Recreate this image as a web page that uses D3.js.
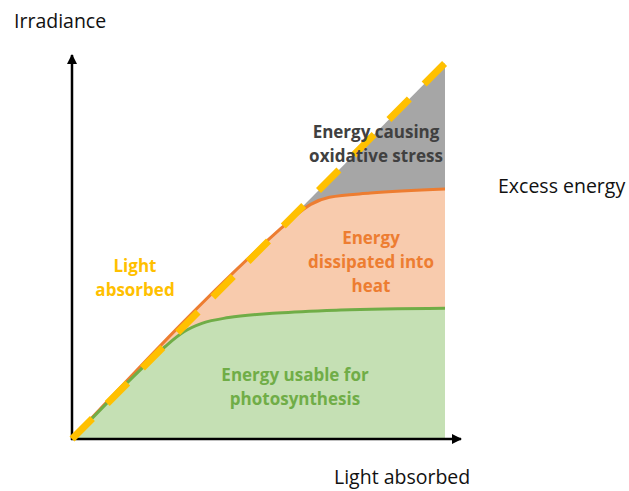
<!DOCTYPE html>
<html>
<head>
<meta charset="utf-8">
<style>
  body { margin: 0; background: #fff; }
  text { font-family: "Open Sans", "Noto Sans", sans-serif; }
  .lbl { font-size: 19.5px; fill: #111; }
  .area-lbl { font-size: 17px; font-weight: bold; text-anchor: middle; }
</style>
</head>
<body>
<svg width="629" height="491"></svg>
<script src="https://d3js.org/d3.v7.min.js"></script>
<script>
// light absorbed (diagonal) and the two saturation curves, in arbitrary units 0..100
var absorbed = [[0, 0], [100, 100]];
var usable = [[0, 0], [20, 20], [25, 24.6], [30, 28.5], [35, 30.8], [42, 32.3], [55, 33.5], [72, 34.3], [100, 34.8]];
var heat = [[0, 0], [56, 56], [60, 59.5], [64, 62.4], [69, 64.3], [80, 65.4], [100, 66.5]];

var svg = d3.select("svg");

var x = d3.scaleLinear().domain([0, 100]).range([72, 445]);
var y = d3.scaleLinear().domain([0, 100]).range([439, 63]);

var line = d3.line()
  .x(function(d) { return x(d[0]); })
  .y(function(d) { return y(d[1]); })
  .curve(d3.curveMonotoneX);

var area = d3.area()
  .x(function(d) { return x(d[0]); })
  .y0(y(0))
  .y1(function(d) { return y(d[1]); })
  .curve(d3.curveMonotoneX);

// stacked fills: gray (stress) under diagonal, orange under heat curve, green under usable curve
svg.append("path").attr("d", area(absorbed)).attr("fill", "#a6a6a6");
svg.append("path").attr("d", area(heat)).attr("fill", "#f8cbad");
svg.append("path").attr("d", area(usable)).attr("fill", "#c5e0b4");

svg.append("path").attr("d", line(heat)).attr("fill", "none")
  .attr("stroke", "#ed7d31").attr("stroke-width", 3);
svg.append("path").attr("d", line(usable)).attr("fill", "none")
  .attr("stroke", "#70ad47").attr("stroke-width", 3);

// axes with arrow heads
svg.append("defs").append("marker")
  .attr("id", "arrow")
  .attr("viewBox", "0 0 10 10")
  .attr("refX", 9).attr("refY", 5)
  .attr("markerWidth", 4).attr("markerHeight", 4)
  .attr("orient", "auto")
  .append("path").attr("d", "M0,0 L10,5 L0,10 z").attr("fill", "#000");

svg.append("line")
  .attr("x1", x(0)).attr("y1", y(0) + 1)
  .attr("x2", x(0)).attr("y2", 55)
  .attr("stroke", "#000").attr("stroke-width", 2.5)
  .attr("marker-end", "url(#arrow)");
svg.append("line")
  .attr("x1", x(0) - 1).attr("y1", y(0))
  .attr("x2", 461).attr("y2", y(0))
  .attr("stroke", "#000").attr("stroke-width", 2.5)
  .attr("marker-end", "url(#arrow)");

// dashed diagonal (light absorbed)
svg.append("path").attr("d", line(absorbed)).attr("fill", "none")
  .attr("stroke", "#ffc000").attr("stroke-width", 7)
  .attr("stroke-dasharray", "29,21");

// labels
svg.append("text").attr("class", "lbl").attr("x", 14).attr("y", 28).text("Irradiance");
svg.append("text").attr("class", "lbl").attr("x", 498).attr("y", 193).text("Excess energy");
svg.append("text").attr("class", "lbl").attr("x", 334).attr("y", 484).text("Light absorbed");

function multiline(lines, cx, y0, color) {
  var t = svg.append("text").attr("class", "area-lbl").attr("fill", color);
  lines.forEach(function(s, i) {
    t.append("tspan").attr("x", cx).attr("y", y0 + i * 24).text(s);
  });
}
multiline(["Energy causing", "oxidative stress"], 376, 138, "#404040");
multiline(["Energy", "dissipated into", "heat"], 371, 244, "#ed7d31");
multiline(["Light", "absorbed"], 135, 272, "#ffc000");
multiline(["Energy usable for", "photosynthesis"], 295, 381, "#70ad47");
</script>
</body>
</html>
